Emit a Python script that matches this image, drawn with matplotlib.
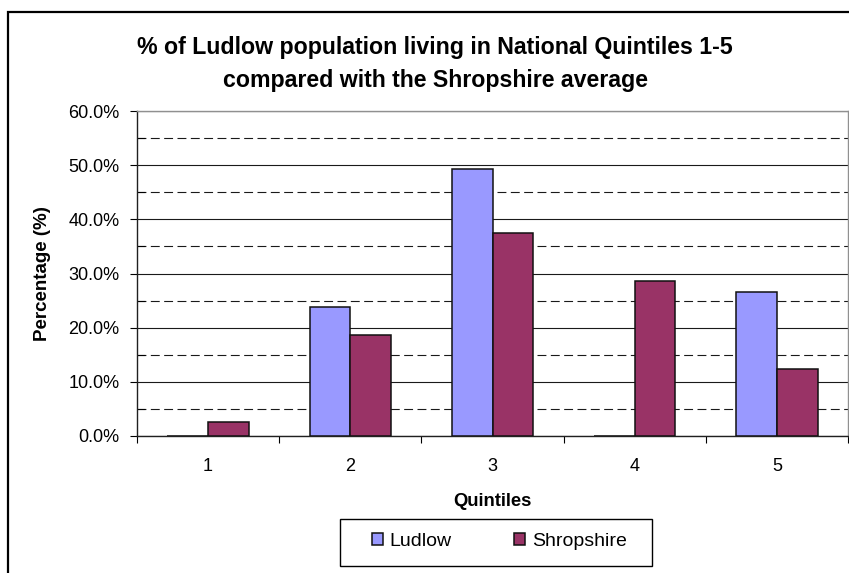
import matplotlib
matplotlib.use("Agg")
import matplotlib.pyplot as plt
import numpy as np
from matplotlib.patches import Rectangle
from matplotlib.ticker import FuncFormatter, MultipleLocator, FixedLocator

quintiles = ["1", "2", "3", "4", "5"]
ludlow = [0.0, 23.9, 49.3, 0.0, 26.6]
shropshire = [2.6, 18.6, 37.5, 28.6, 12.4]
series_names = ["Ludlow", "Shropshire"]
colors = ["#9999FF", "#993366"]

plt.rcParams['font.family'] = ['Liberation Sans', 'DejaVu Sans']

W, H = 849, 573
fig = plt.figure(figsize=(W / 100, H / 100), dpi=100)
fig.patch.set_facecolor("white")

# outer chart border
fig.add_artist(Rectangle((8 / W, -0.1), 1.2, 1.1 - 12 / H, transform=fig.transFigure,
                         fill=False, edgecolor="black", linewidth=1.6, clip_on=False))

left, right, top, bottom = 137, 848, 111, 436
ax = fig.add_axes([left / W, 1 - bottom / H, (right - left) / W, (bottom - top) / H])

x = np.arange(len(quintiles))
bw = 1 / 3.5
ax.bar(x - bw / 2, ludlow, bw, color=colors[0], edgecolor="#111111", linewidth=1.1,
       label=series_names[0], zorder=3)
ax.bar(x + bw / 2, shropshire, bw, color=colors[1], edgecolor="#111111", linewidth=1.1,
       label=series_names[1], zorder=3)

ax.set_xlim(-0.5, len(quintiles) - 0.5)
ax.set_ylim(0, 60)

ax.yaxis.set_major_locator(MultipleLocator(10))
ax.yaxis.set_minor_locator(MultipleLocator(5))
ax.yaxis.set_major_formatter(FuncFormatter(lambda v, p: f"{v:.1f}%"))
ax.grid(axis="y", which="major", color="#1a1a1a", linewidth=0.8, zorder=1)
ax.grid(axis="y", which="minor", color="#1a1a1a", linewidth=0.8, linestyle=(0, (8, 4)), zorder=1)
ax.tick_params(axis="y", which="major", direction="out", length=5.2, width=0.8,
               labelsize=13, pad=7.5)
ax.tick_params(axis="y", which="minor", direction="in", length=5.5, width=0.8)

ax.set_xticks(x)
ax.set_xticklabels(quintiles, fontsize=13)
ax.tick_params(axis="x", which="major", length=0, pad=16)
ax.xaxis.set_minor_locator(FixedLocator(np.arange(-0.5, len(quintiles), 1.0)))
ax.tick_params(axis="x", which="minor", direction="out", length=5, width=0.8)

for s in ["top", "right"]:
    ax.spines[s].set_color("#909090")
    ax.spines[s].set_linewidth(1.0)
for s in ["left", "bottom"]:
    ax.spines[s].set_color("#202020")
    ax.spines[s].set_linewidth(1.0)

ax.set_ylabel("Percentage (%)", fontsize=13.5, fontweight="bold")
ax.yaxis.set_label_coords((42 - left) / (right - left), 0.5)
ax.yaxis.label.set_va("center")
ax.set_xlabel("Quintiles", fontsize=13.3, fontweight="bold")
ax.xaxis.set_label_coords(0.5, (bottom - 501.5) / (bottom - top))
ax.xaxis.label.set_va("center")

fig.text(434.5 / W, 1 - 54.3 / H, "% of Ludlow population living in National Quintiles 1-5",
         ha="center", va="baseline", fontsize=16.7, fontweight="bold")
fig.text(435.5 / W, 1 - 86.7 / H, "compared with the Shropshire average",
         ha="center", va="baseline", fontsize=16.7, fontweight="bold")

# legend frame drawn manually
fig.add_artist(Rectangle((340 / W, 1 - 566 / H), 312 / W, 47 / H, transform=fig.transFigure,
                         fill=False, edgecolor="black", linewidth=1.0))
fs = 14
fspx = fs * 100 / 72
leg = fig.legend(loc="center left", bbox_to_anchor=(371.7 / W, 1 - 541 / H), ncol=2,
                 fontsize=fs, frameon=False,
                 handlelength=11 / fspx, handleheight=11 / fspx, handletextpad=7 / fspx,
                 columnspacing=3.2, borderpad=0, borderaxespad=0)

fig.savefig("out.png", dpi=100, facecolor="white")
